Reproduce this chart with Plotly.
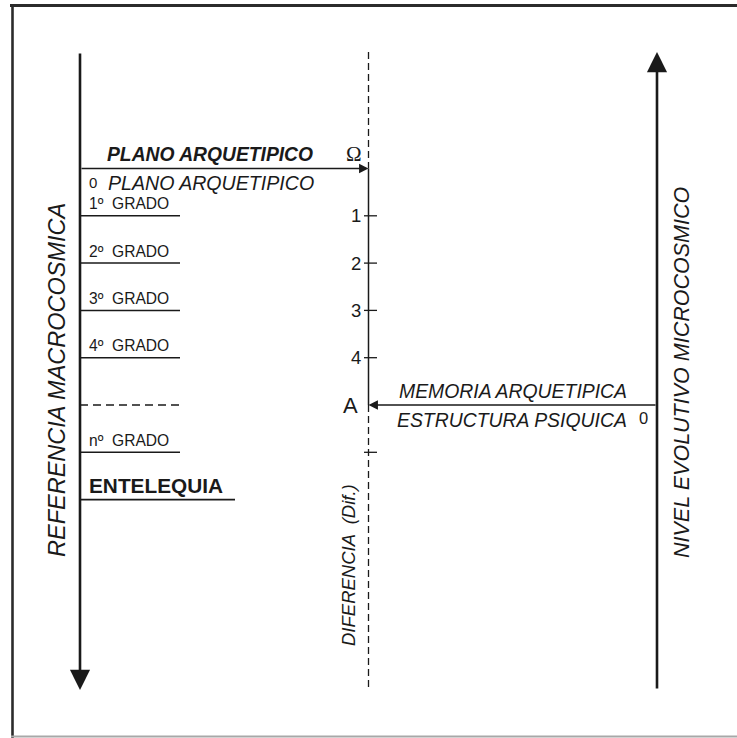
import plotly.graph_objects as go

# ---------------- data ----------------
scale_ticks = ["1", "2", "3", "4"]
scale_levels = [1, 2, 3, 4]

grade_labels = ["1º  GRADO", "2º  GRADO", "3º  GRADO", "4º  GRADO", "nº  GRADO"]
grade_levels = [1, 2, 3, 4, 6]
ellipsis_level = 5

entelequia_label = "ENTELEQUIA"
entelequia_level = 7

archetype_level = 0        # Ω  -  PLANO ARQUETIPICO
memory_level = 5           # A  -  MEMORIA ARQUETIPICA
difference_tick_level = 6

axis_titles = ["REFERENCIA MACROCOSMICA", "DIFERENCIA  (Dif.)", "NIVEL EVOLUTIVO MICROCOSMICO"]
axis_x = [0, 0.5, 1]       # macro axis, difference line, micro axis

# ---------------- layout geometry (pixels -> data units) ----------------
W, H = 737, 738
X0_PX, X_UNIT = 80.0, 577.0          # x=0 at 80px, x=1 at 657px
Y0_PX, Y_UNIT = 168.5, 47.3          # level 0 at 168.5px, 47.3px per level


def px2x(p):
    return (p - X0_PX) / X_UNIT


def px2y(p):
    return (p - Y0_PX) / Y_UNIT


axis_top = px2y(52)
axis_bottom = px2y(690)

INK = "#1a1a1a"
FONT = "Liberation Sans, Arial, sans-serif"

fig = go.Figure()


def seg(x, y, width=1.5, dash="solid", color=INK):
    fig.add_trace(go.Scatter(x=x, y=y, mode="lines", hoverinfo="skip",
                             line=dict(color=color, width=width, dash=dash),
                             showlegend=False))


# difference (middle) line: dashed / solid / dashed
xm = axis_x[1]
seg([xm, xm], [axis_top, archetype_level], width=1.3, dash="7px,4px")
seg([xm, xm], [archetype_level, memory_level], width=1.5)
seg([xm, xm], [memory_level, axis_bottom], width=1.3, dash="7px,4px")

# ticks on the middle line
tick_l, tick_r = px2x(364), px2x(377)
for lv in scale_levels + [difference_tick_level]:
    seg([tick_l, tick_r], [lv, lv], width=1.3)

# grade lines
g_end = px2x(180)
for lv in grade_levels:
    seg([axis_x[0], g_end], [lv, lv], width=1.5)
seg([axis_x[0], g_end], [ellipsis_level, ellipsis_level], width=1.3, dash="8px,5px")
seg([axis_x[0], px2x(235)], [entelequia_level, entelequia_level], width=1.6)

annotations = []


def arrow(x, y, ax, ay, width, size):
    annotations.append(dict(x=x, y=y, ax=ax, ay=ay, xref="x", yref="y",
                            axref="x", ayref="y", text="", showarrow=True,
                            arrowhead=2, arrowwidth=width, arrowsize=size,
                            arrowcolor=INK, standoff=0, startstandoff=0))


# main axes arrows
arrow(axis_x[0], axis_bottom, axis_x[0], axis_top, 2.6, 1.55)
arrow(axis_x[2], axis_top, axis_x[2], axis_bottom, 2.6, 1.55)
# horizontal arrows
arrow(xm, archetype_level, axis_x[0], archetype_level, 1.4, 1.35)
arrow(xm, memory_level, axis_x[2], memory_level, 1.4, 1.35)


def text(t, x, y, size, xanchor="left", yshift=0, angle=0, family=FONT):
    annotations.append(dict(x=x, y=y, xref="x", yref="y", text=t, showarrow=False,
                            xanchor=xanchor, yanchor="middle", yshift=yshift,
                            textangle=angle,
                            font=dict(family=family, size=size, color=INK)))


# archetype plane labels
text("<b><i>PLANO ARQUETIPICO</i></b>", px2x(105), archetype_level, 19.3, yshift=14)
text("0", px2x(93), archetype_level, 15, xanchor="center", yshift=-14)
text("<i>PLANO ARQUETIPICO</i>", px2x(106), archetype_level, 19.6, yshift=-14)
text("Ω", px2x(354), archetype_level, 21, xanchor="center", yshift=15,
     family="Liberation Serif, DejaVu Serif, serif")

# grade labels
for lab, lv in zip(grade_labels, grade_levels):
    text(lab, px2x(87), lv, 15.6, yshift=12)
text("<b>" + entelequia_label + "</b>", px2x(87), entelequia_level, 20.8, yshift=14)

# scale tick labels
for lab, lv in zip(scale_ticks, scale_levels):
    text(lab, px2x(363), lv, 18.5, xanchor="right")
text("A", px2x(350), memory_level, 22, xanchor="center")

# memory / psychic structure labels
text("<i>MEMORIA ARQUETIPICA</i>", px2x(629), memory_level, 19.4, xanchor="right", yshift=14)
text("<i>ESTRUCTURA PSIQUICA</i>", px2x(629), memory_level, 19.4, xanchor="right", yshift=-15)
text("0", px2x(643), memory_level, 16.5, xanchor="center", yshift=-13)

# rotated axis titles
text("<i>" + axis_titles[0] + "</i>", px2x(57), px2y(380), 23.5, xanchor="center", angle=-90)
text("<i>" + axis_titles[1] + "</i>", px2x(348), px2y(565), 18.5, xanchor="center", angle=-90)
text("<i>" + axis_titles[2] + "</i>", px2x(682), px2y(373), 21.5, xanchor="center", angle=-90)

# frame
shapes = [
    dict(type="line", xref="paper", yref="paper", x0=10 / W, x1=1.01, y0=1 - 5.5 / H, y1=1 - 5.5 / H,
         line=dict(color="#2b2b2b", width=3)),
    dict(type="line", xref="paper", yref="paper", x0=12.5 / W, x1=12.5 / W, y0=1 - 4 / H, y1=0,
         line=dict(color="#2b2b2b", width=2.6)),
    dict(type="line", xref="paper", yref="paper", x0=11 / W, x1=1.01, y0=1.5 / H, y1=1.5 / H,
         line=dict(color="#a8a8a8", width=2)),
]

fig.update_layout(
    width=W, height=H,
    margin=dict(l=0, r=0, t=0, b=0),
    paper_bgcolor="white", plot_bgcolor="white",
    xaxis=dict(range=[px2x(0), px2x(W)], visible=False, fixedrange=True),
    yaxis=dict(range=[px2y(H), px2y(0)], visible=False, fixedrange=True),
    annotations=annotations,
    shapes=shapes,
    showlegend=False,
)

fig.write_html("out.html", config={"displayModeBar": False},
               post_script="document.body.style.margin='0';document.body.style.overflow='hidden';")
